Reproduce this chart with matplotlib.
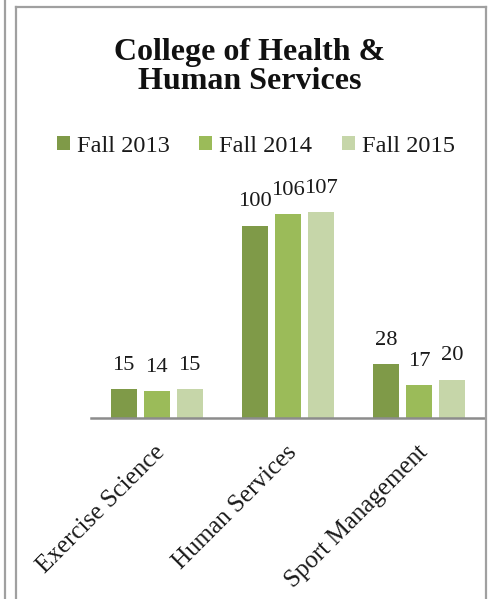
import matplotlib
matplotlib.use("Agg")
import matplotlib.pyplot as plt
from matplotlib.lines import Line2D
from matplotlib.patches import Patch
import numpy as np

categories = ["Exercise Science", "Human Services", "Sport Management"]
series_names = ["Fall 2013", "Fall 2014", "Fall 2015"]
fall_2013 = [15, 100, 28]
fall_2014 = [14, 106, 17]
fall_2015 = [15, 107, 20]
colors = ["#7F9A48", "#9BBB59", "#C6D6A9"]

W, H = 492, 599
fig = plt.figure(figsize=(W / 100, H / 100), dpi=100)
plt.rcParams['font.family'] = ['Liberation Serif', 'DejaVu Serif']

def px(x0, y0, x1, y1):
    return [x0 / W, 1 - y1 / H, (x1 - x0) / W, (y1 - y0) / H]

ax_top, ax_bot = 190, 418
ax = fig.add_axes(px(91, ax_top, 485, ax_bot))
unit = 1.925
ax.set_ylim(0, (ax_bot - ax_top) / unit)
ax.set_xlim(-0.5, len(categories) - 0.5)

x = np.arange(len(categories))
pitch = 0.251
bw = 0.198
for i, vals in enumerate([fall_2013, fall_2014, fall_2015]):
    bars = ax.bar(x + (i - 1) * pitch, vals, width=bw, color=colors[i], label=series_names[i], zorder=2)
    for b, v in zip(bars, vals):
        ax.annotate(str(v), (b.get_x() + b.get_width() / 2, v), xytext=(0, 19),
                    textcoords='offset pixels', ha='center', va='baseline', fontsize=16.2, color='#1a1a1a')

for s in ['top', 'right', 'left']:
    ax.spines[s].set_visible(False)
ax.spines['bottom'].set_color('#8c8c8c')
ax.spines['bottom'].set_linewidth(1.8)
ax.set_yticks([])
ax.set_xticks(x - 0.02)
ax.set_xticklabels(categories, rotation=45, ha='right', va='top', rotation_mode='anchor', fontsize=18, color='#1a1a1a')
ax.tick_params(axis='x', length=0, pad=17)

fig.text(250 / W, 1 - 67 / H, "College of Health &\nHuman Services", ha='center', va='center',
         fontsize=23, fontweight='bold', linespacing=1.0, color='#111111')

handles = [Patch(facecolor=c, edgecolor='none') for c in colors]
fig.legend(handles, series_names, loc='center', bbox_to_anchor=(256 / W, 1 - 146 / H), ncol=3,
           frameon=False, fontsize=17.6, handlelength=0.52, handleheight=0.52, handletextpad=0.3,
           columnspacing=1.2, borderpad=0, labelcolor='#1a1a1a')

gray = '#a0a0a0'
def fline(xs, ys):
    fig.add_artist(Line2D([v / W for v in xs], [1 - v / H for v in ys], color=gray, lw=1.6,
                          transform=fig.transFigure))
fline([5, 5], [0, H])
fline([16, 16], [7, H])
fline([16, 486], [7, 7])
fline([486, 486], [7, H])

fig.savefig("out.png", dpi=100, facecolor='white')
